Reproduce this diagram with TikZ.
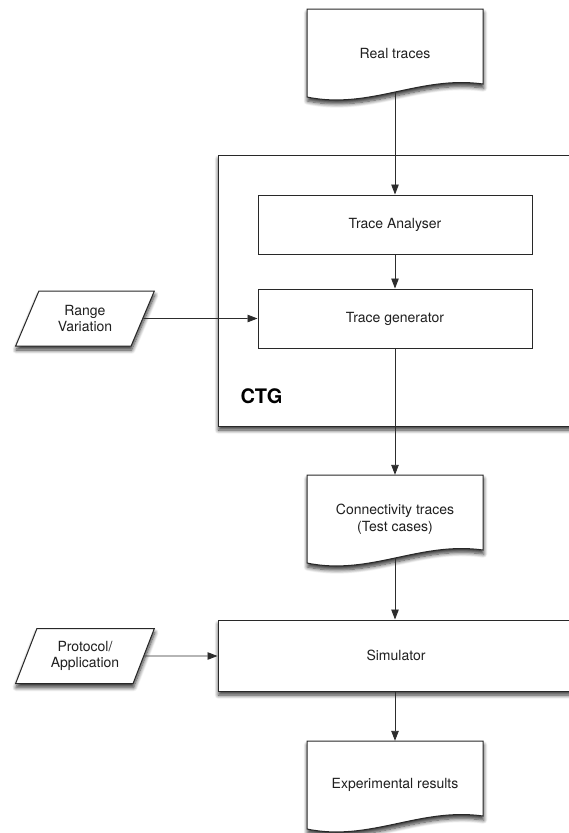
\documentclass[tikz,border=0pt]{standalone}
\usepackage{fontspec}
\setmainfont{TeX Gyre Heros}
\usetikzlibrary{calc,positioning,shapes.geometric,arrows.meta,shadows.blur}
\definecolor{ctg-line}{RGB}{40,40,40}
\definecolor{ctg-arrow}{RGB}{45,45,45}

% document symbol with wavy bottom, text node on top
\newcommand{\docnode}[3]{%
  \coordinate (#1-c) at (#2);
  \filldraw[docline] ($(#1-c)+(-88,-44)$) -- ($(#1-c)+(88,-44)$) -- ($(#1-c)+(88,31)$)
    .. controls ($(#1-c)+(25,22)$) and ($(#1-c)+(-25,57)$) .. ($(#1-c)+(-88,44)$) -- cycle;
  \node[doctext] (#1) at (#1-c) {#3};
  \coordinate (#1-out) at ($(#1-c)+(0,39)$);}

\begin{document}
\begin{tikzpicture}[x=1pt, y=-1pt,
    every node/.style={font=\fontsize{14pt}{16.5pt}\selectfont, align=center, text=black!88},
    softshadow/.style={blur shadow={shadow xshift=0.5pt, shadow yshift=-4pt, shadow blur radius=4pt, shadow blur steps=8, shadow opacity=80}},
    docline/.style={draw=ctg-line, fill=white, line width=1pt, softshadow},
    doctext/.style={inner sep=0pt, minimum width=176pt, minimum height=88pt},
    procbox/.style={draw=ctg-line, fill=white, line width=1pt},
    inputbox/.style={trapezium, trapezium left angle=63, trapezium right angle=117,
      trapezium stretches=true, minimum width=139pt, minimum height=55pt, inner sep=0pt,
      draw=ctg-line, fill=white, line width=1pt, softshadow},
    flow/.style={draw=ctg-arrow, line width=0.9pt, -{Triangle[length=10pt, width=7.5pt]}}]
  \useasboundingbox (0,0) rectangle (568,833);

  % CTG frame
  \node[procbox, softshadow, minimum width=356pt, minimum height=271pt] (ctg) at (396,290.5) {};
  \node[font=\fontsize{20pt}{22pt}\selectfont\bfseries, text=black, anchor=base west] (ctglabel) at (237,403) {CTG};

  \docnode{rt}{395,53}{Real traces}
  \node[procbox, minimum width=274pt, minimum height=59pt] (ta) at (395,224.5) {Trace Analyser};
  \node[procbox, minimum width=274pt, minimum height=59pt] (tg) at (395,318.5) {Trace generator};
  \node[inputbox] (rv) at (85,318.5) {Range\\Variation};

  \docnode{ct}{395,519}{Connectivity traces\\(Test cases)}
  \node[procbox, softshadow, minimum width=356pt, minimum height=71pt] (sim) at (396,655.5) {Simulator};
  \node[inputbox] (pa) at (85,656) {Protocol/\\Application};
  \docnode{er}{395,785}{Experimental results}

  \draw[flow] (rt-out) -- (rt-out |- ta.north);
  \draw[flow] (ta) -- (tg);
  \draw[flow] (rv) -- (tg);
  \draw[flow] (tg.south) -- (ct.north);
  \draw[flow] (ct-out) -- (ct-out |- sim.north);
  \draw[flow] (pa) -- (pa -| sim.west);
  \draw[flow] (sim.south -| er) -- (er.north);
\end{tikzpicture}
\end{document}
